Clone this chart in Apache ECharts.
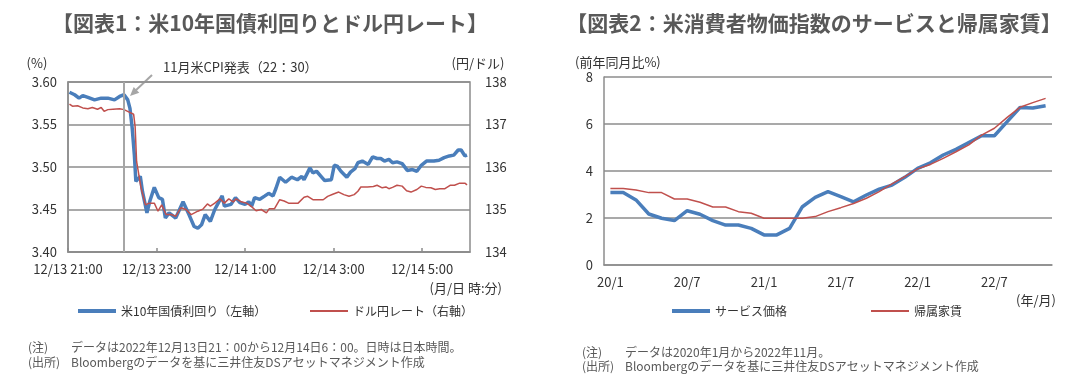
<!DOCTYPE html>
<html><head><meta charset="utf-8">
<script src="https://cdn.jsdelivr.net/npm/echarts@6/dist/echarts.min.js"></script>
<style>html,body{margin:0;padding:0;background:#fff}#c{width:1087px;height:381px}</style>
</head><body><div id="c"></div>
<script>
const FONT = '"Noto Sans CJK JP", "Noto Sans", sans-serif';

// ---- Chart 1: minutes after 12/13 21:00 (JST)
const yieldTimes = [2,9,15,20,27,36,45,54,63,70,76,81,84,87,90,92,98,101,107,111,117,123,128,132,137,146,156,164,171,176,181,186,193,199,204,209,212,221,227,233,240,245,249,253,260,267,272,278,282,287,295,303,311,317,320,328,332,337,343,348,357,361,365,370,378,383,389,393,399,407,413,419,424,429,435,440,446,453,460,467,473,479,486,496,503,510,517,523,529,533,538,541];
const yieldValues = [3.588,3.585,3.581,3.584,3.582,3.579,3.581,3.581,3.579,3.583,3.585,3.579,3.569,3.546,3.514,3.483,3.489,3.471,3.446,3.460,3.476,3.464,3.462,3.440,3.446,3.440,3.459,3.444,3.430,3.428,3.432,3.444,3.436,3.450,3.458,3.466,3.454,3.456,3.464,3.458,3.456,3.459,3.454,3.464,3.462,3.466,3.469,3.466,3.475,3.488,3.482,3.488,3.485,3.489,3.485,3.499,3.493,3.495,3.489,3.484,3.485,3.502,3.501,3.495,3.488,3.494,3.498,3.505,3.507,3.503,3.512,3.510,3.510,3.507,3.509,3.505,3.506,3.504,3.496,3.497,3.495,3.502,3.507,3.507,3.508,3.511,3.513,3.514,3.520,3.520,3.513,3.514];
const yenTimes = [2,6,13,20,27,33,40,45,49,54,61,70,76,83,89,91,93,99,105,110,117,122,127,133,140,146,153,160,167,176,183,189,193,199,206,212,218,224,228,235,242,248,255,262,269,273,280,287,293,299,312,320,325,332,339,346,352,359,367,374,381,388,393,397,406,414,419,426,431,435,440,446,453,459,465,473,479,485,492,498,504,511,518,524,531,538,541];
const yenValues = [137.48,137.43,137.44,137.39,137.37,137.40,137.36,137.40,137.31,137.35,137.36,137.37,137.35,137.29,137.24,136.95,136.13,135.51,135.11,135.15,135.15,134.96,135.11,134.88,134.88,134.84,135.04,135.00,134.88,134.96,135.01,135.13,135.08,135.15,135.25,135.15,135.25,135.18,135.25,135.18,135.15,135.08,134.97,135.00,134.92,135.02,135.02,135.23,135.20,135.15,135.15,135.29,135.31,135.23,135.23,135.23,135.31,135.36,135.41,135.35,135.31,135.35,135.43,135.53,135.53,135.54,135.57,135.51,135.53,135.49,135.52,135.57,135.55,135.44,135.41,135.47,135.55,135.52,135.51,135.47,135.49,135.49,135.57,135.57,135.62,135.62,135.58];
const timeTickValues = [0, 120, 240, 360, 480];
const timeTickLabels = ['12/13 21:00', '12/13 23:00', '12/14 1:00', '12/14 3:00', '12/14 5:00'];
const cpiReleaseTime = 76;

// ---- Chart 2
const months = ['20/1','20/2','20/3','20/4','20/5','20/6','20/7','20/8','20/9','20/10','20/11','20/12',
  '21/1','21/2','21/3','21/4','21/5','21/6','21/7','21/8','21/9','21/10','21/11','21/12',
  '22/1','22/2','22/3','22/4','22/5','22/6','22/7','22/8','22/9','22/10','22/11'];
const servicePrices = [3.09,3.09,2.77,2.17,1.99,1.89,2.31,2.16,1.89,1.70,1.70,1.56,1.28,1.28,1.56,2.48,2.88,3.12,2.91,2.69,2.98,3.23,3.40,3.73,4.11,4.35,4.68,4.92,5.21,5.50,5.50,6.10,6.70,6.68,6.78];
const ownersRent = [3.26,3.26,3.19,3.08,3.08,2.81,2.81,2.67,2.47,2.47,2.27,2.20,1.99,1.99,1.99,1.99,2.06,2.27,2.44,2.62,2.84,3.12,3.45,3.76,4.09,4.28,4.54,4.82,5.11,5.53,5.82,6.28,6.71,6.91,7.09];

const BLUE = '#4a7ebb', RED = '#c0504d', GRID = '#8c8c8c', TXT = '#333', NOTE = '#595959';

const chart = echarts.init(document.getElementById('c'), null, {renderer: 'canvas'});
const axisLbl = {fontFamily: FONT, fontSize: 13, color: TXT};
const txt = (x, y, s, o) => ({type: 'text', x, y, style: Object.assign({text: s, fontFamily: FONT, fontSize: 13, fill: TXT, textVerticalAlign: 'middle'}, o || {})});
const legendItem = (left, name, color, h) => ({
  left, top: 311 - 7 - 5, itemWidth: 38, itemHeight: h, itemGap: 4, icon: 'rect',
  textStyle: {fontFamily: FONT, fontSize: 12, color: TXT, lineHeight: 14}, data: [{name, icon: 'rect', itemStyle: {color}}]
});

const option = {
  animation: false,
  backgroundColor: '#fff',
  grid: [
    {left: 68, top: 82, width: 402, height: 170, show: true, borderColor: GRID, borderWidth: 1.5, backgroundColor: 'transparent'},
    {left: 604, top: 77, width: 448, height: 188}
  ],
  xAxis: [
    {type: 'value', gridIndex: 0, min: 0, max: 545, interval: 120,
     axisLine: {lineStyle: {color: GRID, width: 1.5}},
     axisTick: {inside: true, length: 4, lineStyle: {color: GRID, width: 1.5}},
     axisLabel: Object.assign({margin: 11, showMaxLabel: false, formatter: v => { const i = timeTickValues.indexOf(v); return i >= 0 ? timeTickLabels[i] : ''; }}, axisLbl),
     splitLine: {show: false}},
    {type: 'category', gridIndex: 1, data: months, boundaryGap: true,
     axisLine: {lineStyle: {color: GRID, width: 1.5}},
     axisTick: {inside: true, length: 5, interval: 5, lineStyle: {color: GRID, width: 1.5}},
     axisLabel: Object.assign({margin: 11, interval: 5}, axisLbl)}
  ],
  yAxis: [
    {type: 'value', gridIndex: 0, min: 3.40, max: 3.60, interval: 0.05,
     axisLine: {show: true, lineStyle: {color: GRID, width: 1.5}}, axisTick: {show: false},
     axisLabel: Object.assign({margin: 11, formatter: v => v.toFixed(2)}, axisLbl),
     splitLine: {lineStyle: {color: GRID, width: 1.5}}},
    {type: 'value', gridIndex: 0, position: 'right', min: 134, max: 138, interval: 1,
     axisLine: {show: false}, axisTick: {show: false},
     axisLabel: Object.assign({margin: 15}, axisLbl), splitLine: {show: false}},
    {type: 'value', gridIndex: 1, min: 0, max: 8, interval: 2,
     axisLine: {show: true, lineStyle: {color: GRID, width: 1.5}}, axisTick: {show: false},
     axisLabel: Object.assign({margin: 11}, axisLbl),
     splitLine: {lineStyle: {color: GRID, width: 1.5}}}
  ],
  legend: [
    legendItem(73, '米10年国債利回り（左軸）', BLUE, 4),
    legendItem(305, 'ドル円レート（右軸）', RED, 2),
    legendItem(667, 'サービス価格', BLUE, 4),
    legendItem(866, '帰属家賃', RED, 2)
  ],
  series: [
    {name: '米10年国債利回り（左軸）', type: 'line', xAxisIndex: 0, yAxisIndex: 0, symbol: 'none',
     data: yieldTimes.map((t, i) => [t, yieldValues[i]]),
     lineStyle: {color: BLUE, width: 3.5}, itemStyle: {color: BLUE},
     markLine: {silent: true, symbol: ['none', 'none'], label: {show: false},
       lineStyle: {color: '#a6a6a6', type: 'solid', width: 2},
       data: [{xAxis: cpiReleaseTime}]}},
    {name: 'ドル円レート（右軸）', type: 'line', xAxisIndex: 0, yAxisIndex: 1, symbol: 'none',
     data: yenTimes.map((t, i) => [t, yenValues[i]]),
     lineStyle: {color: RED, width: 1.5}, itemStyle: {color: RED}},
    {name: 'サービス価格', type: 'line', xAxisIndex: 1, yAxisIndex: 2, symbol: 'none',
     data: servicePrices, lineStyle: {color: BLUE, width: 3.5}, itemStyle: {color: BLUE}},
    {name: '帰属家賃', type: 'line', xAxisIndex: 1, yAxisIndex: 2, symbol: 'none',
     data: ownersRent, lineStyle: {color: RED, width: 1.5}, itemStyle: {color: RED}}
  ],
  graphic: [
    txt(270, 23, '【図表1：米10年国債利回りとドル円レート】', {fontSize: 21, fontWeight: 'bold', fill: NOTE, textAlign: 'center'}),
    txt(814, 23, '【図表2：米消費者物価指数のサービスと帰属家賃】', {fontSize: 21, fontWeight: 'bold', fill: NOTE, textAlign: 'center'}),
    txt(37, 63, '(%)', {textAlign: 'center'}),
    txt(478, 63, '(円/ドル)', {textAlign: 'center'}),
    txt(163, 67, '11月米CPI発表（22：30）', {}),
    {type: 'line', shape: {x1: 152, y1: 75, x2: 134, y2: 92}, style: {stroke: '#a6a6a6', lineWidth: 2}},
    {type: 'polygon', shape: {points: [[130, 96], [139.3, 92.7], [133.7, 86.9]]}, style: {fill: '#a6a6a6'}},
    txt(502, 288, '(月/日 時:分)', {textAlign: 'right'}),
    txt(575, 62, '(前年同月比%)', {}),
    txt(1056, 300, '(年/月)', {textAlign: 'right'}),
    txt(28, 347, '(注)', {fontSize: 12, fill: NOTE}),
    txt(71, 347, 'データは2022年12月13日21：00から12月14日6：00。日時は日本時間。', {fontSize: 12, fill: NOTE}),
    txt(28, 362, '(出所)', {fontSize: 12, fill: NOTE}),
    txt(71, 362, 'Bloombergのデータを基に三井住友DSアセットマネジメント作成', {fontSize: 12, fill: NOTE}),
    txt(582, 352, '(注)', {fontSize: 12, fill: NOTE}),
    txt(625, 352, 'データは2020年1月から2022年11月。', {fontSize: 12, fill: NOTE}),
    txt(582, 366, '(出所)', {fontSize: 12, fill: NOTE}),
    txt(625, 366, 'Bloombergのデータを基に三井住友DSアセットマネジメント作成', {fontSize: 12, fill: NOTE})
  ]
};
chart.setOption(option);
</script></body></html>
